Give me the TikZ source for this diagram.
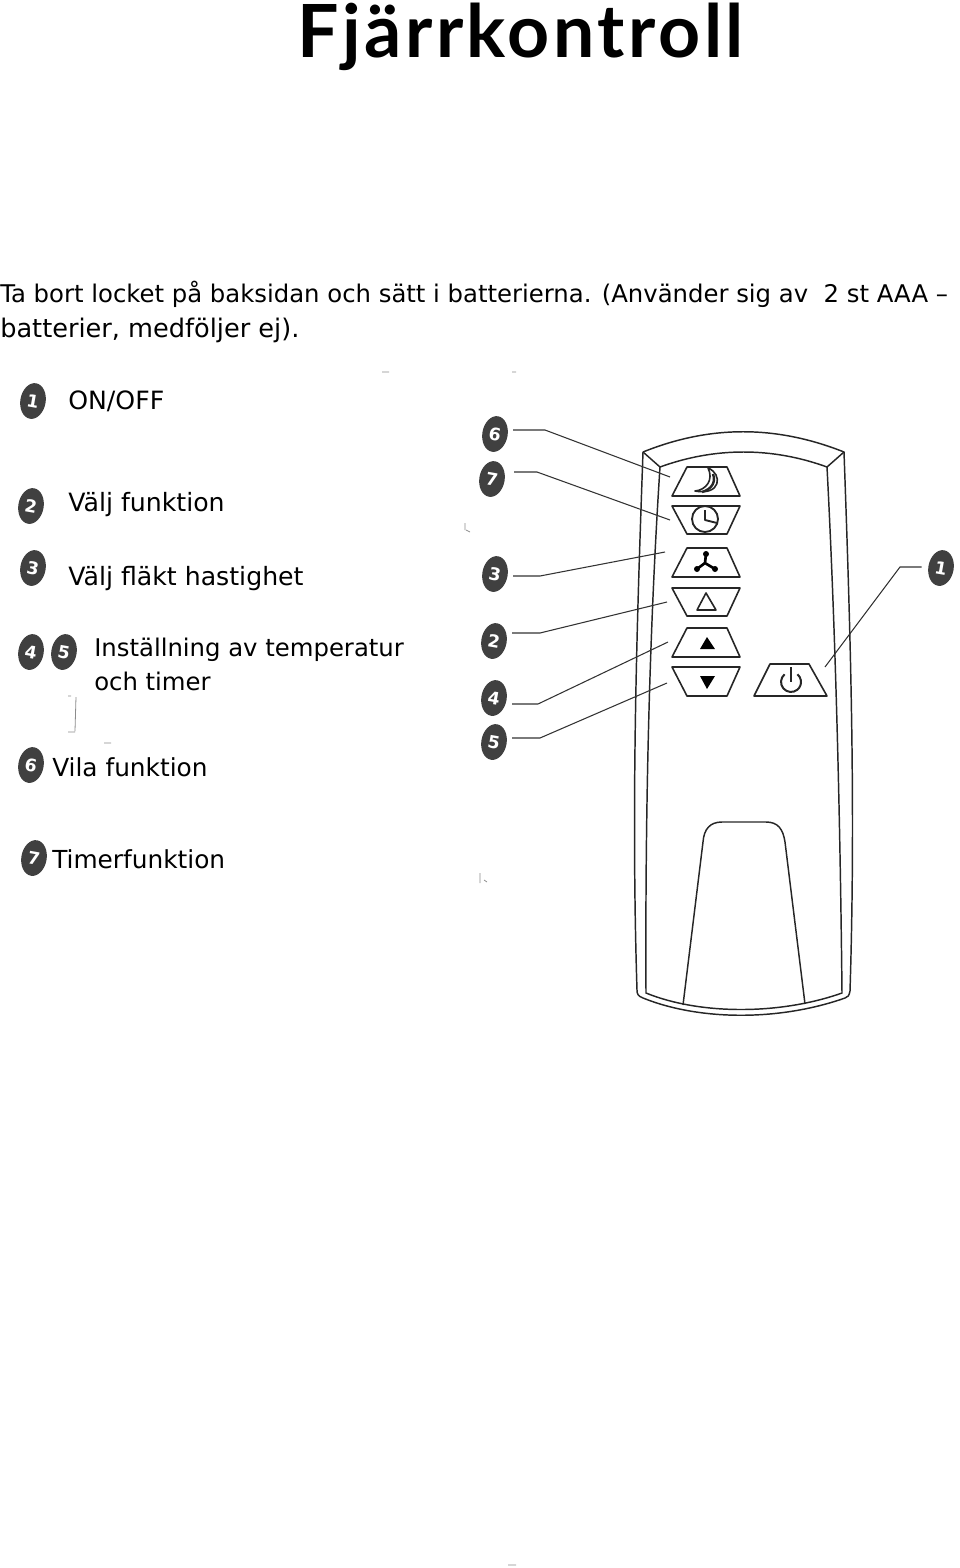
\documentclass[tikz,border=0pt]{standalone}
\usepackage{fontspec}
\setmainfont{DejaVu Sans}
\newfontfamily\titlefont[LetterSpace=4.8]{Lato}
\usetikzlibrary{shapes.geometric, positioning, calc}

\tikzset{
	txt/.style={anchor=base west,inner sep=0pt,font=\fontsize{18.9pt}{21pt}\selectfont},
	txtb/.style={txt,font=\fontsize{18.6pt}{21pt}\selectfont},
	intro/.style={txt,font=\fontsize{18.25pt}{21pt}\selectfont},
	badge/.style={ellipse,fill=black!75,text=white,inner sep=0pt,minimum width=19pt,minimum height=27pt,rotate=-10,font=\fontsize{13pt}{13pt}\selectfont\bfseries},
	leader/.style={draw=black!80,line width=0.8pt,shorten <=4pt},
	body/.style={draw=black!85,line width=1.1pt},
	key/.style={draw=black!85,line width=1.2pt,line join=round},
	speck/.style={draw=black!45,line width=0.6pt}
}

\begin{document}
\begin{tikzpicture}[x=0.75pt,y=-0.75pt]
	\useasboundingbox (0,0) rectangle (960,1568);
	\node[anchor=base west,inner sep=0pt,font=\fontsize{55pt}{60pt}\selectfont\titlefont\bfseries] (title) at (297,57) {Fjärrkontroll};
	\node[intro] (intro1) at (0,302) {Ta bort locket på baksidan och sätt i batterierna. (Använder sig av~ 2 st AAA –};
	\node[txt,font=\fontsize{19.2pt}{21pt}\selectfont] (intro2) at (0,337) {batterier, medföljer ej).};
	% legend
	\node[badge] (a1) at (33,401) {1};
	\node[badge] (a2) at (31,506) {2};
	\node[badge] (a3) at (33,568) {3};
	\node[badge] (a4) at (31,652) {4};
	\node[badge] (a5) at (64,652) {5};
	\node[badge] (a6) at (31,765) {6};
	\node[badge] (a7) at (34,858) {7};
	\node[txt] (t1) at (68,409) {ON/OFF};
	\node[txt] (t2) at (68,511) {Välj funktion};
	\node[txt] (t3) at (68,585) {Välj fläkt hastighet};
	\node[intro] (t4) at (94,656) {Inställning av temperatur};
	\node[intro] (t5) at (94,690) {och timer};
	\node[txtb] (t6) at (52,776) {Vila funktion};
	\node[txtb] (t7) at (52,868) {Timerfunktion};
	% remote outline
	\draw[body] (643,452) .. controls (710,425) and (776,425) .. (844,452) .. controls (850,620) and (856,800) .. (850,991) .. controls (849,996) and (848,997) .. (845,998) .. controls (780,1021) and (700,1021) .. (643,998) .. controls (638,996) and (637,994) .. (637,990) .. controls (631,800) and (637,620) .. (643,452);
	\draw[body] (660,467) .. controls (715,447) and (772,447) .. (827,467) .. controls (835,620) and (840,800) .. (842,993) .. controls (780,1015) and (700,1015) .. (646,993) .. controls (645,800) and (650,620) .. (660,467);
	\draw[body] (643,452) -- (660,467) (844,452) -- (827,467);
	\draw[body] (683,1005) -- (703,842) .. controls (704,829) and (710,822) .. (722,822) -- (766,822) .. controls (778,822) and (783,829) .. (785,842) -- (805,1004);
	% keys
	\draw[key] (672,496) -- (687,467) -- (727,467) -- (740,496) -- cycle;
	\draw[key] (672,506) -- (740,506) -- (727,534) -- (687,534) -- cycle;
	\draw[key] (672,577) -- (687,548) -- (727,548) -- (740,577) -- cycle;
	\draw[key] (672,588) -- (740,588) -- (727,616) -- (687,616) -- cycle;
	\draw[key] (672,657) -- (687,628) -- (727,628) -- (740,657) -- cycle;
	\draw[key] (672,667) -- (740,667) -- (727,696) -- (687,696) -- cycle;
	\draw[key] (754,696) -- (770,664) -- (809,664) -- (827,696) -- cycle;
	% moon
	\draw[key,fill=white] (708,468) .. controls (723,474) and (721,496) .. (695,491) .. controls (706,490) and (714,480) .. (708,468);
	\draw[key,line width=1.8pt] (713,474) .. controls (716,482) and (712,489) .. (702,492);
	% clock
	\draw[key,line width=1.4pt] (705,519) circle (13);
	\draw[key,line width=1.4pt] (705,510) -- (705,520) -- (717,523);
	% fan
	\draw[black,line width=2pt] (705,563) -- (706,554) (705,563) -- (697,569) (705,563) -- (715,569);
	\foreach \bx/\by in {706/554,697/569,715/569}
		\fill[black] (\bx,\by) circle (3);
	% triangles
	\draw[key] (697,610) -- (706,593) -- (716,610) -- cycle;
	\fill[black] (700,649) -- (707,637) -- (715,649) -- cycle;
	\fill[black] (700,676) -- (715,676) -- (707,689) -- cycle;
	% power
	\draw[key,line width=1.5pt] (784.6,674.3) arc[start angle=-130,end angle=-410,radius=10];
	\draw[key,line width=1.8pt] (791,667) -- (791,682);
	% callouts
	\node[badge] (b6) at (495,434) {6};
	\node[badge] (b7) at (492,479) {7};
	\node[badge] (b3) at (495,574) {3};
	\node[badge] (b2) at (494,641) {2};
	\node[badge] (b4) at (494,698) {4};
	\node[badge] (b5) at (494,742) {5};
	\node[badge] (b1) at (941,568) {1};
	\coordinate (e6) at (670,477);
	\coordinate (e7) at (670,520);
	\coordinate (e3) at (665,552);
	\coordinate (e2) at (667,602);
	\coordinate (e4) at (668,642);
	\coordinate (e5) at (667,683);
	\coordinate (e1) at (825,667);
	\draw[leader] (b6.east |- 0,430) -- (545,430) -- (e6);
	\draw[leader,shorten <=7pt] (b7.east |- 0,472) -- (537,472) -- (e7);
	\draw[leader] (b3.east |- 0,576) -- (540,576) -- (e3);
	\draw[leader] (b2.east |- 0,633) -- (540,633) -- (e2);
	\draw[leader] (b4.east |- 0,704) -- (538,704) -- (e4);
	\draw[leader] (b5.east |- 0,738) -- (540,738) -- (e5);
	\draw[leader,shorten <=5pt] (b1.west |- 0,567) -- (900,567) -- (e1);
	% scan specks
	\draw[speck] (382,372) -- (389,372) (512,372) -- (516,372) (465,523) -- (465,530) (466,530) -- (470,532) (480,873) -- (480,883) (484,880) -- (487,882) (76,697) -- (75,731) (68,696) -- (71,696) (68,732) -- (75,732) (104,743) -- (111,743) (508,1565) -- (516,1565);
\end{tikzpicture}
\end{document}
